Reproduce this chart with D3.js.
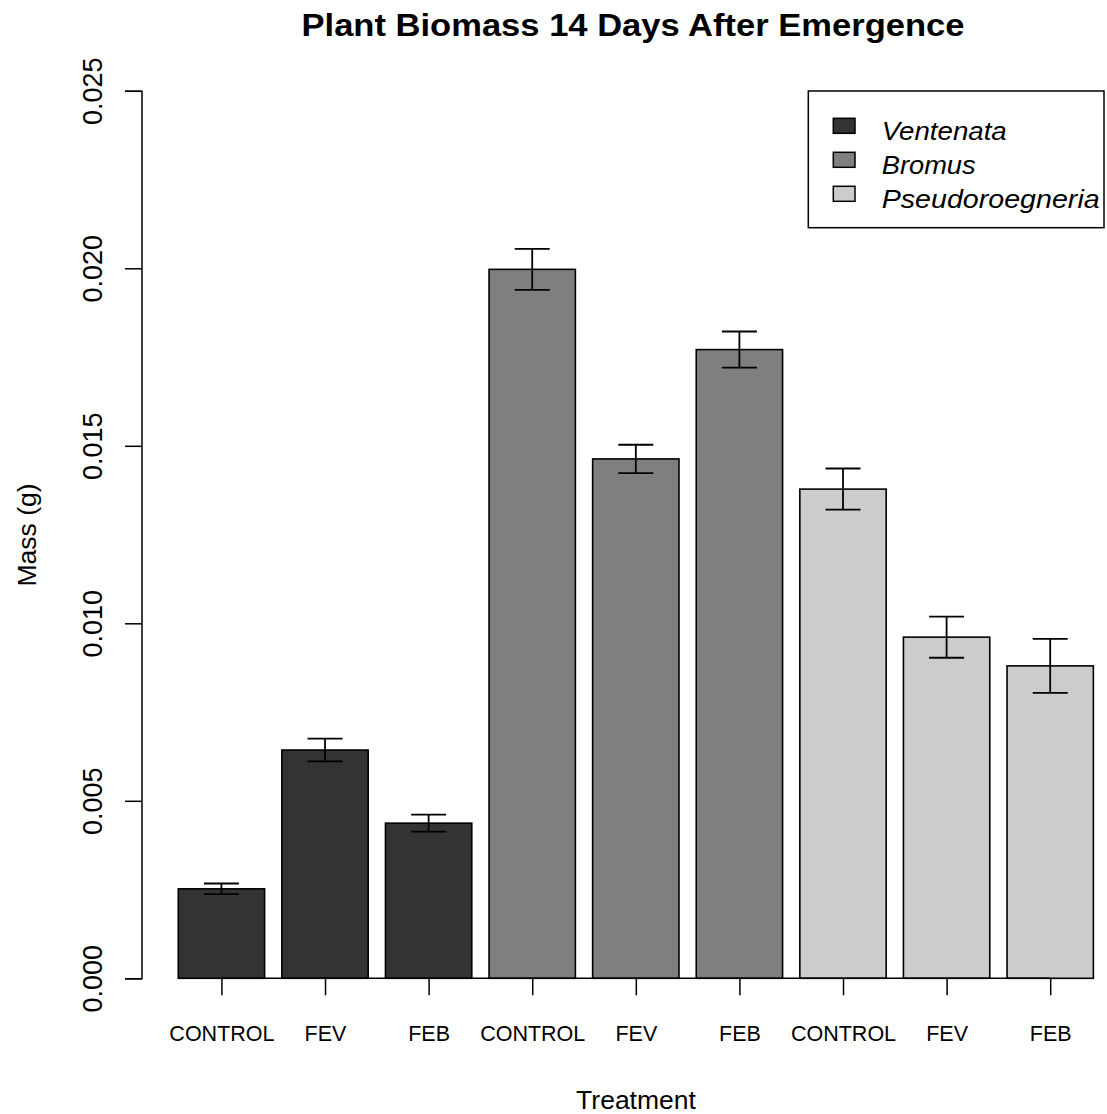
<!DOCTYPE html>
<html>
<head>
<meta charset="utf-8">
<script src="https://cdn.jsdelivr.net/npm/d3@7"></script>
<style>
  body { margin: 0; background: #fff; }
  text { font-family: "Liberation Sans", Arial, sans-serif; fill: #000; }
</style>
</head>
<body>
<script>
// Bar labels, species groups and the values
var treatments = ["CONTROL", "FEV", "FEB", "CONTROL", "FEV", "FEB", "CONTROL", "FEV", "FEB"];
var species = ["Ventenata", "Bromus", "Pseudoroegneria"];
var speciesColors = ["#333333", "#7f7f7f", "#cccccc"];
var barSpecies = [0, 0, 0, 1, 1, 1, 2, 2, 2];
var means = [0.00252, 0.00643, 0.00437, 0.01997, 0.01463, 0.01771, 0.01378, 0.00961, 0.00880];
var stdErr = [0.00015, 0.00032, 0.00024, 0.00058, 0.00040, 0.00051, 0.00058, 0.00058, 0.00076];
var yTicks = [0, 0.005, 0.010, 0.015, 0.020, 0.025];

var w = 1107;
var h = 1114;

var svg = d3.select("body")
    .append("svg")
    .attr("width", w)
    .attr("height", h);

// x in barplot units: bar i spans 0.2 + 1.2*i to 1.2 + 1.2*i
var xScale = d3.scaleLinear()
    .domain([0, 10.8])
    .range([161, 161 + 10.8 * 86.33]);
var yScale = d3.scaleLinear()
    .domain([0, 0.025])
    .range([978.3, 90.8]);

function barLeft(i) { return 0.2 + 1.2 * i; }
function barMid(i) { return 0.7 + 1.2 * i; }

// Title
svg.append("text")
    .attr("x", 633)
    .attr("y", 36)
    .attr("text-anchor", "middle")
    .style("font-weight", "bold")
    .style("font-size", "32px")
    .attr("textLength", 663)
    .attr("lengthAdjust", "spacingAndGlyphs")
    .text("Plant Biomass 14 Days After Emergence");

// Bars
svg.selectAll(".bar")
    .data(means)
    .enter()
    .append("rect")
    .attr("class", "bar")
    .attr("x", function(d, i) { return xScale(barLeft(i)); })
    .attr("width", xScale(1) - xScale(0))
    .attr("y", function(d) { return yScale(d); })
    .attr("height", function(d) { return yScale(0) - yScale(d); })
    .style("fill", function(d, i) { return speciesColors[barSpecies[i]]; })
    .style("stroke", "#000")
    .style("stroke-width", 1.6);

// Error bars
var errs = svg.selectAll(".err")
    .data(means)
    .enter()
    .append("g")
    .attr("class", "err")
    .style("stroke", "#000")
    .style("stroke-width", 1.8);

errs.append("line")
    .attr("x1", function(d, i) { return xScale(barMid(i)); })
    .attr("x2", function(d, i) { return xScale(barMid(i)); })
    .attr("y1", function(d, i) { return yScale(d + stdErr[i]); })
    .attr("y2", function(d, i) { return yScale(d - stdErr[i]); });

[1, -1].forEach(function(sign) {
  errs.append("line")
      .attr("x1", function(d, i) { return xScale(barMid(i)) - 17.5; })
      .attr("x2", function(d, i) { return xScale(barMid(i)) + 17.5; })
      .attr("y1", function(d, i) { return yScale(d + sign * stdErr[i]); })
      .attr("y2", function(d, i) { return yScale(d + sign * stdErr[i]); });
});

// y axis, labels turned like R does
var yAxis = svg.append("g")
    .attr("transform", "translate(141.5,0)")
    .call(d3.axisLeft(yScale)
      .tickValues(yTicks)
      .tickSizeOuter(0)
      .tickSize(16.5)
      .tickFormat(d3.format(".3f")));
yAxis.selectAll("path, line").style("stroke", "#000").style("stroke-width", 1.5);
yAxis.selectAll("text")
    .attr("x", null)
    .attr("dy", null)
    .attr("transform", "translate(-40,0) rotate(-90)")
    .attr("text-anchor", "middle")
    .style("font-family", "Liberation Sans, Arial, sans-serif")
    .style("font-size", "27px");

// x axis: ticks at bar middles, line from first to last tick
var centers = treatments.map(function(t, i) { return barMid(i); });
var xAxis = svg.append("g")
    .attr("transform", "translate(0,978.3)")
    .call(d3.axisBottom(xScale)
      .tickValues(centers)
      .tickSize(17)
      .tickPadding(46)
      .tickFormat(function(d, i) { return treatments[i]; }));
xAxis.select(".domain").remove();
xAxis.insert("line", ":first-child")
    .attr("x1", xScale(centers[0]))
    .attr("x2", xScale(centers[centers.length - 1]))
    .style("stroke", "#000")
    .style("stroke-width", 1.5);
xAxis.selectAll("line").style("stroke", "#000").style("stroke-width", 1.5);
xAxis.selectAll("text")
    .attr("dy", null)
    .style("font-family", "Liberation Sans, Arial, sans-serif")
    .style("font-size", "21.5px");

// Axis titles
svg.append("text")
    .attr("x", 636)
    .attr("y", 1109)
    .attr("text-anchor", "middle")
    .style("font-size", "26.5px")
    .text("Treatment");

svg.append("text")
    .attr("transform", "translate(36,535) rotate(-90)")
    .attr("text-anchor", "middle")
    .style("font-size", "26.5px")
    .text("Mass (g)");

// Legend
var legend = svg.append("g");
legend.append("rect")
    .attr("x", 808.3)
    .attr("y", 91)
    .attr("width", 1104 - 808.3)
    .attr("height", 227.7 - 91)
    .style("fill", "#fff")
    .style("stroke", "#000")
    .style("stroke-width", 1.5);

var items = legend.selectAll(".legend")
    .data(species)
    .enter()
    .append("g")
    .attr("class", "legend")
    .attr("transform", function(d, i) { return "translate(0," + i * 34 + ")"; });

items.append("rect")
    .attr("x", 833.3)
    .attr("y", 118.3)
    .attr("width", 21.7)
    .attr("height", 15)
    .style("fill", function(d, i) { return speciesColors[i]; })
    .style("stroke", "#000")
    .style("stroke-width", 1.5);

var legendWidths = [125, 94, 218];
items.append("text")
    .attr("x", 881.7)
    .attr("y", 140)
    .style("font-style", "italic")
    .style("font-size", "25px")
    .attr("textLength", function(d, i) { return legendWidths[i]; })
    .attr("lengthAdjust", "spacingAndGlyphs")
    .text(function(d) { return d; });
</script>
</body>
</html>
